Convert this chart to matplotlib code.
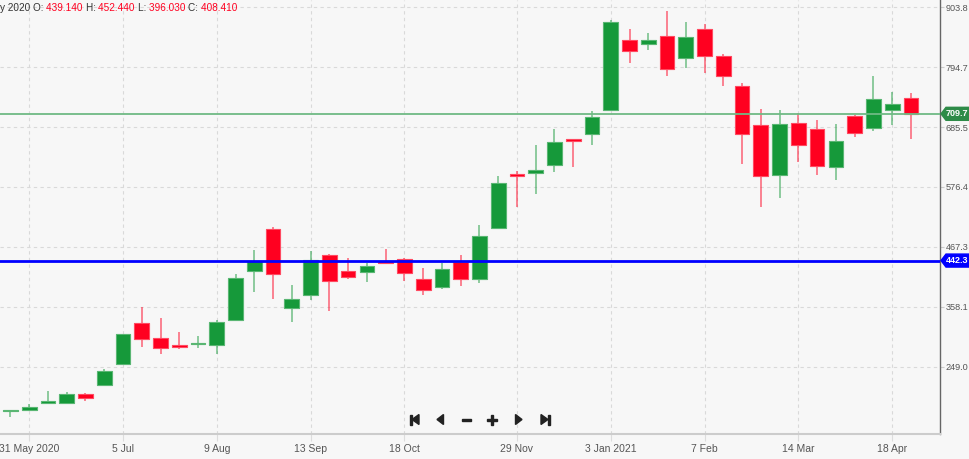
import matplotlib
matplotlib.use("Agg")
import matplotlib.pyplot as plt
import matplotlib.dates as mdates
from matplotlib.patches import Polygon
import numpy as np
import pandas as pd

plt.rcParams['font.family'] = ['Liberation Sans Narrow', 'Liberation Sans', 'DejaVu Sans']

# ---- data (weekly candles) ----
dates = pd.date_range('2020-05-24', periods=49, freq='7D')
opens = [168.0, 170.0, 183.3, 182.8, 199.2, 215.6, 253.8, 329.1, 301.8, 286.1,
         289.7, 288.5, 334.0, 423.9, 500.4, 355.3, 379.0, 451.9, 423.9, 422.0,
         441.5, 445.7, 409.3, 393.6, 439.14, 408.2, 502.2, 599.5, 602.4, 616.5,
         663.3, 672.9, 716.7, 844.8, 836.4, 852.1, 810.9, 864.3, 815.6, 759.9,
         688.8, 598.8, 692.4, 681.5, 612.8, 705.2, 683.3, 716.1, 738.0]
highs = [170.0, 181.0, 205.2, 202.8, 201.0, 244.7, 309.4, 358.3, 337.1, 311.6,
         304.9, 334.0, 417.3, 461.6, 502.9, 397.2, 459.8, 453.7, 447.5, 437.3,
         463.4, 447.0, 429.3, 438.4, 452.44, 507.1, 596.4, 605.5, 652.9, 681.5,
         664.4, 715.4, 880.7, 864.8, 857.5, 897.1, 877.0, 873.4, 818.2, 765.3,
         717.9, 716.1, 710.6, 697.9, 691.2, 708.1, 778.6, 750.0, 747.1]
lows = [157.3, 169.5, 181.5, 181.5, 187.0, 215.0, 252.6, 284.3, 272.1, 280.6,
        282.5, 272.1, 333.1, 384.5, 371.7, 329.8, 370.5, 349.9, 409.3, 403.8,
        435.5, 405.6, 378.7, 391.0, 396.03, 402.0, 500.4, 540.5, 563.6, 604.2,
        613.4, 652.9, 715.8, 801.8, 826.5, 778.1, 793.8, 783.5, 760.4, 618.3,
        539.4, 556.9, 622.5, 598.8, 589.1, 667.5, 679.0, 689.3, 663.3]
closes = [168.5, 175.5, 187.0, 198.7, 191.9, 241.1, 308.0, 299.4, 282.5, 284.8,
          291.6, 329.8, 410.0, 442.1, 417.3, 371.7, 443.4, 405.6, 412.9, 433.0,
          438.4, 419.1, 387.8, 426.9, 408.41, 487.1, 583.7, 596.4, 606.8, 657.8,
          660.2, 703.4, 877.0, 823.6, 844.2, 790.8, 850.2, 814.5, 778.6, 673.5,
          596.9, 690.6, 652.9, 614.6, 659.6, 674.8, 737.3, 727.1, 709.7]

last_price = 709.7
level_price = 442.3

ytick_vals = [249.0, 358.1, 467.3, 576.4, 685.5, 794.7, 903.8]
xtick_dates = ['2020-05-31', '2020-07-05', '2020-08-09', '2020-09-13', '2020-10-18',
               '2020-11-29', '2021-01-03', '2021-02-07', '2021-03-14', '2021-04-18']
xtick_labels = ['31 May 2020', '5 Jul', '9 Aug', '13 Sep', '18 Oct',
                '29 Nov', '3 Jan 2021', '7 Feb', '14 Mar', '18 Apr']

header_date = 'y 2020'
header_ohlc = [('O:', '439.140'), ('H:', '452.440'), ('L:', '396.030'), ('C:', '408.410')]

# ---- figure ----
W, H = 969, 459
BG = '#f7f7f7'
GREEN = '#16993a'
RED = '#ff0020'
fig = plt.figure(figsize=(W / 100, H / 100), dpi=100, facecolor=BG)
ax_l, ax_r, ax_b, ax_t = 0, 940, 434, 0  # pixel box
ax = fig.add_axes([ax_l / W, 1 - ax_b / H, (ax_r - ax_l) / W, (ax_b - ax_t) / H])
ax.set_facecolor(BG)

x = mdates.date2num(dates)
o = np.array(opens); c = np.array(closes); hi = np.array(highs); lo = np.array(lows)
up = c >= o
cols = np.where(up, GREEN, RED)

ymin, ymax = 126.3, 917.1
ax.set_ylim(ymin, ymax)
x0 = mdates.date2num(pd.Timestamp('2020-05-31'))
ax.set_xlim(x0 - 10.9, x0 + 339.85)

px_per_val = (ax_b - ax_t) / (ymax - ymin)
min_h = 1.6 / px_per_val

for xi, oi, ci, hii, loi, col in zip(x, o, c, hi, lo, cols):
    ax.vlines(xi, loi, hii, color=col, lw=1.1, alpha=0.6, zorder=2)
bottoms = np.minimum(o, c)
heights = np.maximum(np.abs(c - o), min_h)
ax.bar(x, heights, bottom=bottoms, width=5.5, color=cols, edgecolor=cols,
       linewidth=0.8, alpha=1.0, zorder=3)
ax.bar(x, heights, bottom=bottoms, width=5.5, color='none', edgecolor='white',
       linewidth=0.6, alpha=0.35, zorder=4)

# lines
ax.axhline(last_price, color='#6fba84', lw=1.3, zorder=5)
ax.axhline(level_price, color='#0000ff', lw=2.0, zorder=5)

# grid / ticks
ax.set_yticks(ytick_vals)
ax.set_yticklabels([f'{v:.1f}' for v in ytick_vals])
ax.set_xticks(mdates.date2num(pd.to_datetime(xtick_dates)))
ax.set_xticklabels(xtick_labels)
ax.grid(True, color='#d9d9d9', linestyle=(0, (3, 3)), lw=0.8, zorder=0)
ax.yaxis.tick_right()
ax.tick_params(axis='y', length=3, color='#cccccc', labelsize=6.6, labelcolor='#555555', pad=1)
ax.tick_params(axis='x', length=5, color='#dddddd', labelsize=7.5, labelcolor='#555555', pad=2)
for s in ['top', 'left']:
    ax.spines[s].set_visible(False)
ax.spines['right'].set_color('#666666')
ax.spines['right'].set_linewidth(1.0)
ax.spines['bottom'].set_color('#cccccc')
ax.spines['bottom'].set_linewidth(1.5)

# price tags on right axis
def tag(val, color, text):
    hh = 6.5 / px_per_val
    a1 = 941 / ax_r
    a2 = 946 / ax_r
    a3 = 985 / ax_r
    tr = ax.get_yaxis_transform()
    poly = Polygon([(a1, val), (a2, val + hh), (a3, val + hh), (a3, val - hh), (a2, val - hh)],
                   closed=True, transform=tr, facecolor=color, edgecolor=color,
                   clip_on=False, zorder=10)
    ax.add_patch(poly)
    ax.text(946 / ax_r, val, text, transform=tr, color='white', fontsize=6.5,
            fontweight='bold', va='center', ha='left', clip_on=False, zorder=11)

tag(last_price, '#2e8b48', f'{last_price:.1f}')
tag(level_price, '#0000ff', f'{level_price:.1f}')

# header
hx = 0
fs = 7.2
t = fig.text(hx / W, 1 - 8 / H, header_date + ' ', color='#333333', fontsize=fs, va='center', ha='left')
fig.canvas.draw()
r = fig.canvas.get_renderer()
cur = t.get_window_extent(r).x1
for lab, val in header_ohlc:
    t1 = fig.text(cur / W, 1 - 8 / H, lab + ' ', color='#333333', fontsize=fs, va='center', ha='left')
    cur = t1.get_window_extent(r).x1
    t2 = fig.text(cur / W, 1 - 8 / H, val + ' ', color='#ff0020', fontsize=fs, va='center', ha='left')
    cur = t2.get_window_extent(r).x1

# navigation buttons (overlay in pixel coords)
ov = fig.add_axes([0, 0, 1, 1], facecolor='none')
ov.set_xlim(0, W); ov.set_ylim(H, 0); ov.axis('off')
nc = '#222222'
cy = 419.5
ov.add_patch(plt.Rectangle((410, cy - 5), 1.6, 10, color=nc))
ov.add_patch(Polygon([(412, cy), (419, cy - 5), (419, cy + 5)], color=nc))
ov.add_patch(Polygon([(437, cy), (443.5, cy - 5), (443.5, cy + 5)], color=nc))
ov.add_patch(plt.Rectangle((462, cy - 0.8), 9.5, 1.8, color=nc))
ov.add_patch(plt.Rectangle((487, cy - 0.8), 10, 1.8, color=nc))
ov.add_patch(plt.Rectangle((491.2, cy - 5), 1.8, 10, color=nc))
ov.add_patch(Polygon([(522, cy), (515.5, cy - 5), (515.5, cy + 5)], color=nc))
ov.add_patch(Polygon([(548, cy), (541, cy - 5), (541, cy + 5)], color=nc))
ov.add_patch(plt.Rectangle((548, cy - 5), 1.6, 10, color=nc))

fig.savefig('out.png', dpi=100, facecolor=BG)
